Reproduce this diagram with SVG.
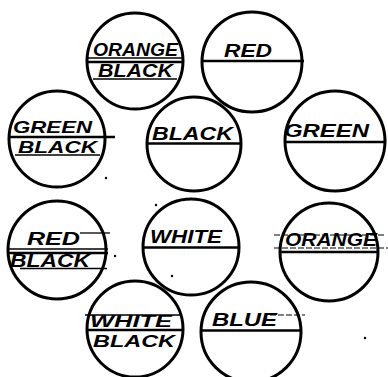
<svg xmlns="http://www.w3.org/2000/svg" width="388" height="377" viewBox="0 0 388 377">
<style>
.c{fill:none;stroke:#000;stroke-width:3}
.d{stroke:#000;stroke-width:2.6}
.t{stroke:#000;stroke-width:1.3}
.k{stroke:#000;stroke-width:1.2;stroke-dasharray:6 2}
.l{font-family:"Liberation Sans",Arial,sans-serif;font-weight:bold;font-style:italic;font-size:19px;fill:#000;letter-spacing:0}
.s{font-size:17px}
.dot{fill:#000}
</style>
<rect width="388" height="377" fill="#fff"/>
<g id="orange-black">
<circle class="c" cx="135" cy="61" r="48"/>
<text class="l" x="93" y="56" textLength="85" lengthAdjust="spacingAndGlyphs">ORANGE</text>
<line class="t" x1="88" y1="58" x2="182" y2="58"/>
<line class="d" x1="87" y1="62" x2="183" y2="62"/>
<text class="l" x="98" y="77" textLength="75" lengthAdjust="spacingAndGlyphs">BLACK</text>
<line class="t" x1="93" y1="79" x2="177" y2="79"/>
</g>
<g id="red">
<circle class="c" cx="252" cy="62" r="50"/>
<text class="l" x="224" y="57" textLength="48" lengthAdjust="spacingAndGlyphs">RED</text>
<line class="d" x1="202" y1="61" x2="304" y2="61"/>
</g>
<g id="green-black">
<circle class="c" cx="57" cy="139" r="48"/>
<text class="l s" x="13" y="133" textLength="79" lengthAdjust="spacingAndGlyphs">GREEN</text>
<line class="d" x1="10" y1="137" x2="115" y2="137"/>
<text class="l s" x="18" y="153" textLength="79" lengthAdjust="spacingAndGlyphs">BLACK</text>
<line class="t" x1="15" y1="155" x2="100" y2="155"/>
</g>
<g id="black">
<circle class="c" cx="194" cy="144" r="47"/>
<text class="l" x="152" y="140" textLength="81" lengthAdjust="spacingAndGlyphs">BLACK</text>
<line class="d" x1="147" y1="143.5" x2="241" y2="143.5"/>
</g>
<g id="green">
<circle class="c" cx="335" cy="141" r="50"/>
<text class="l" x="284" y="137" textLength="85" lengthAdjust="spacingAndGlyphs">GREEN</text>
<line class="d" x1="285" y1="142" x2="385" y2="142"/>
</g>
<g id="red-black">
<circle class="c" cx="57" cy="250" r="49"/>
<line class="t" x1="80" y1="233" x2="110" y2="233"/>
<text class="l" x="27" y="245" textLength="53" lengthAdjust="spacingAndGlyphs">RED</text>
<line class="t" x1="8" y1="249" x2="108" y2="249"/>
<line class="d" x1="8" y1="253" x2="108" y2="253"/>
<text class="l" x="10" y="267" textLength="80" lengthAdjust="spacingAndGlyphs">BLACK</text>
<line class="t" x1="20" y1="268.5" x2="107" y2="268.5"/>
</g>
<g id="white">
<circle class="c" cx="191" cy="247" r="48"/>
<text class="l" x="150" y="243" textLength="72" lengthAdjust="spacingAndGlyphs">WHITE</text>
<line class="d" x1="143" y1="247.5" x2="239" y2="247.5"/>
</g>
<g id="orange">
<circle class="c" cx="329" cy="252" r="49"/>
<line class="k" x1="274" y1="235" x2="385" y2="235"/>
<text class="l" x="285" y="246" textLength="92" lengthAdjust="spacingAndGlyphs">ORANGE</text>
<line class="k" x1="274" y1="248" x2="388" y2="248"/>
<line class="d" x1="281" y1="252" x2="377" y2="252"/>
</g>
<g id="white-black">
<circle class="c" cx="135" cy="329" r="48"/>
<line class="t" x1="85" y1="315" x2="180" y2="315"/>
<text class="l s" x="90" y="327" textLength="82" lengthAdjust="spacingAndGlyphs">WHITE</text>
<line class="d" x1="88" y1="330" x2="183" y2="330"/>
<text class="l s" x="93" y="347" textLength="82" lengthAdjust="spacingAndGlyphs">BLACK</text>
</g>
<g id="blue">
<circle class="c" cx="251" cy="332" r="50"/>
<line class="k" x1="270" y1="315" x2="305" y2="315"/>
<text class="l" x="212" y="326" textLength="65" lengthAdjust="spacingAndGlyphs">BLUE</text>
<line class="d" x1="201" y1="330.5" x2="301" y2="330.5"/>
</g>
<g id="connectors"></g>
<g id="marks">
<circle class="dot" cx="156" cy="205" r="1.2"/>
<circle class="dot" cx="172" cy="276" r="1.2"/>
<circle class="dot" cx="115" cy="256" r="1.2"/>
<circle class="dot" cx="365" cy="338" r="1.2"/>
<circle class="dot" cx="106" cy="178" r="1.2"/>
</g>
</svg>
